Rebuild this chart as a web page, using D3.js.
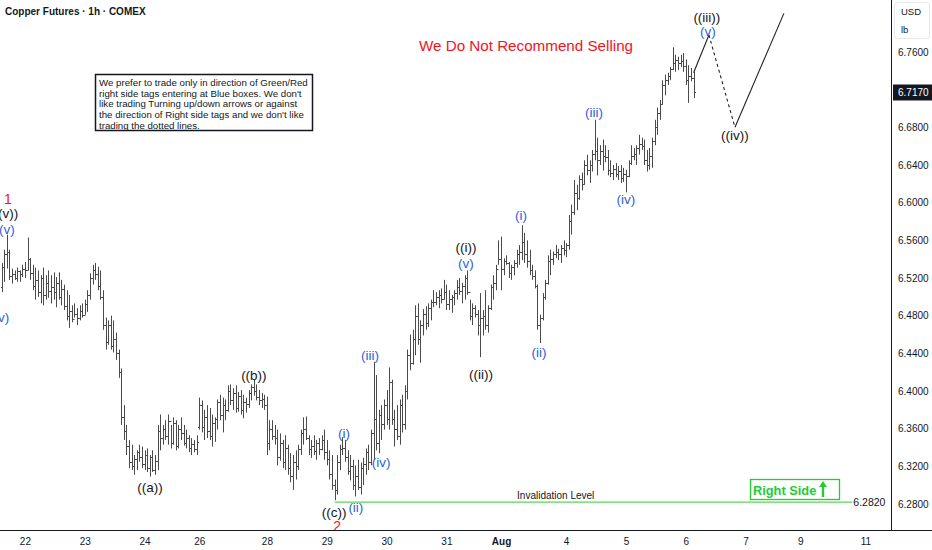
<!DOCTYPE html>
<html>
<head>
<meta charset="utf-8">
<script src="https://cdn.jsdelivr.net/npm/d3@7"></script>
<style>
  body { margin: 0; background: #fff; }
  svg { display: block; font-family: "Liberation Sans", Arial, sans-serif; }
</style>
</head>
<body>
<div id="chart"></div>
<script>
// hourly OHLC
const highs = [6.536,6.550,6.566,6.550,6.530,6.528,6.531,6.528,6.534,6.537,
  6.563,6.541,6.534,6.531,6.528,6.523,6.531,6.523,6.528,6.523,
  6.526,6.521,6.526,6.518,6.513,6.507,6.502,6.491,6.493,6.488,
  6.491,6.493,6.497,6.507,6.525,6.534,6.536,6.532,6.528,6.507,
  6.478,6.475,6.480,6.475,6.462,6.444,6.424,6.385,6.364,6.348,
  6.343,6.332,6.337,6.343,6.341,6.337,6.339,6.332,6.337,6.332,
  6.364,6.375,6.364,6.369,6.375,6.364,6.372,6.369,6.364,6.372,
  6.364,6.359,6.353,6.350,6.348,6.353,6.393,6.390,6.380,6.385,
  6.382,6.375,6.372,6.391,6.396,6.393,6.391,6.406,6.407,6.403,
  6.406,6.399,6.401,6.396,6.393,6.401,6.407,6.412,6.407,6.401,
  6.398,6.396,6.394,6.369,6.369,6.364,6.359,6.355,6.348,6.353,
  6.343,6.334,6.332,6.337,6.343,6.359,6.372,6.373,6.353,6.348,
  6.353,6.348,6.350,6.353,6.359,6.348,6.337,6.332,6.306,6.332,
  6.343,6.351,6.348,6.337,6.332,6.327,6.321,6.327,6.324,6.329,
  6.339,6.343,6.359,6.431,6.417,6.380,6.385,6.391,6.401,6.425,
  6.412,6.380,6.385,6.391,6.396,6.406,6.444,6.460,6.465,6.491,
  6.493,6.475,6.487,6.490,6.493,6.497,6.507,6.505,6.507,6.509,
  6.518,6.513,6.507,6.502,6.507,6.518,6.520,6.515,6.523,6.528,
  6.497,6.493,6.491,6.486,6.504,6.486,6.507,6.491,6.513,6.523,
  6.534,6.560,6.564,6.541,6.544,6.537,6.534,6.539,6.550,6.555,
  6.576,6.568,6.560,6.550,6.534,6.528,6.513,6.481,6.504,6.518,
  6.544,6.550,6.548,6.555,6.551,6.555,6.560,6.557,6.587,6.598,
  6.624,6.619,6.629,6.632,6.645,6.651,6.645,6.656,6.688,6.669,
  6.661,6.667,6.661,6.656,6.645,6.640,6.642,6.639,6.640,6.637,
  6.635,6.645,6.661,6.658,6.661,6.672,6.669,6.667,6.656,6.658,
  6.669,6.688,6.701,6.709,6.730,6.736,6.738,6.744,6.765,6.757,
  6.755,6.757,6.759,6.752,6.746,6.743,6.739];

const lows = [6.505,6.516,6.530,6.518,6.514,6.518,6.516,6.516,6.521,6.520,
  6.528,6.518,6.507,6.497,6.500,6.493,6.491,6.497,6.499,6.493,
  6.497,6.489,6.497,6.491,6.486,6.475,6.467,6.473,6.478,6.470,
  6.475,6.478,6.481,6.484,6.497,6.513,6.518,6.507,6.497,6.465,
  6.444,6.449,6.444,6.441,6.433,6.414,6.364,6.348,6.332,6.318,
  6.316,6.311,6.316,6.325,6.318,6.316,6.314,6.309,6.314,6.311,
  6.316,6.337,6.343,6.348,6.343,6.339,6.343,6.337,6.339,6.348,
  6.342,6.339,6.335,6.332,6.335,6.332,6.359,6.356,6.348,6.350,
  6.348,6.341,6.346,6.359,6.369,6.356,6.369,6.378,6.385,6.380,
  6.377,6.378,6.375,6.371,6.377,6.382,6.390,6.395,6.390,6.385,
  6.382,6.380,6.332,6.337,6.348,6.343,6.321,6.326,6.318,6.316,
  6.311,6.303,6.295,6.306,6.316,6.332,6.343,6.348,6.332,6.329,
  6.332,6.327,6.332,6.337,6.327,6.321,6.306,6.295,6.284,6.290,
  6.316,6.332,6.325,6.311,6.305,6.295,6.288,6.295,6.290,6.300,
  6.311,6.316,6.321,6.327,6.337,6.334,6.348,6.359,6.364,6.359,
  6.364,6.341,6.348,6.343,6.356,6.359,6.391,6.422,6.428,6.438,
  6.449,6.430,6.459,6.465,6.468,6.475,6.489,6.491,6.488,6.493,
  6.497,6.486,6.486,6.483,6.491,6.497,6.502,6.493,6.497,6.502,
  6.475,6.470,6.478,6.459,6.436,6.459,6.465,6.462,6.486,6.497,
  6.507,6.534,6.507,6.523,6.534,6.520,6.518,6.523,6.531,6.534,
  6.539,6.536,6.531,6.523,6.518,6.509,6.465,6.451,6.475,6.497,
  6.513,6.523,6.534,6.541,6.539,6.536,6.544,6.542,6.550,6.566,
  6.587,6.592,6.603,6.613,6.619,6.629,6.621,6.633,6.645,6.629,
  6.640,6.634,6.643,6.629,6.627,6.624,6.627,6.624,6.621,6.622,
  6.611,6.627,6.640,6.645,6.640,6.651,6.656,6.640,6.633,6.635,
  6.637,6.661,6.672,6.688,6.704,6.714,6.725,6.730,6.741,6.739,
  6.741,6.744,6.739,6.725,6.706,6.729,6.711];

const opens = [6.510,6.532,6.545,6.548,6.522,6.524,6.520,6.527,6.524,6.530,
  6.528,6.540,6.525,6.512,6.518,6.505,6.520,6.502,6.515,6.506,
  6.510,6.505,6.515,6.500,6.508,6.490,6.480,6.485,6.476,6.482,
  6.478,6.485,6.481,6.492,6.502,6.520,6.528,6.524,6.512,6.500,
  6.470,6.452,6.470,6.448,6.455,6.440,6.420,6.372,6.358,6.342,
  6.325,6.320,6.328,6.335,6.330,6.322,6.332,6.318,6.330,6.316,
  6.326,6.358,6.350,6.360,6.352,6.368,6.345,6.366,6.342,6.360,
  6.355,6.345,6.350,6.340,6.344,6.338,6.362,6.385,6.362,6.372,
  6.358,6.352,6.366,6.370,6.388,6.375,6.385,6.380,6.400,6.390,
  6.398,6.382,6.395,6.380,6.388,6.386,6.398,6.404,6.400,6.394,
  6.390,6.392,6.385,6.345,6.360,6.352,6.350,6.330,6.345,6.325,
  6.340,6.318,6.310,6.325,6.320,6.338,6.355,6.360,6.350,6.338,
  6.342,6.336,6.345,6.338,6.348,6.335,6.328,6.312,6.300,6.295,
  6.325,6.338,6.340,6.330,6.315,6.320,6.300,6.310,6.298,6.318,
  6.322,6.335,6.325,6.355,6.370,6.345,6.375,6.365,6.385,6.370,
  6.410,6.370,6.360,6.352,6.385,6.365,6.400,6.438,6.430,6.455,
  6.480,6.455,6.470,6.482,6.472,6.488,6.494,6.495,6.500,6.502,
  6.498,6.505,6.492,6.498,6.500,6.504,6.510,6.506,6.512,6.520,
  6.505,6.480,6.488,6.482,6.470,6.478,6.480,6.470,6.488,6.510,
  6.515,6.530,6.540,6.530,6.538,6.536,6.525,6.532,6.536,6.545,
  6.548,6.558,6.545,6.538,6.528,6.522,6.512,6.470,6.478,6.500,
  6.515,6.538,6.540,6.545,6.548,6.545,6.552,6.550,6.555,6.580,
  6.590,6.610,6.605,6.625,6.620,6.640,6.635,6.640,6.652,6.655,
  6.645,6.655,6.650,6.648,6.635,6.632,6.636,6.630,6.634,6.626,
  6.630,6.628,6.642,6.650,6.652,6.658,6.662,6.660,6.645,6.640,
  6.650,6.665,6.680,6.695,6.705,6.725,6.730,6.735,6.742,6.748,
  6.752,6.748,6.750,6.745,6.730,6.735,6.732];

const closes = [6.532,6.545,6.548,6.522,6.524,6.520,6.527,6.524,6.530,6.528,
  6.540,6.525,6.512,6.518,6.505,6.520,6.502,6.515,6.506,6.510,
  6.505,6.515,6.500,6.508,6.490,6.480,6.485,6.476,6.482,6.478,
  6.485,6.481,6.492,6.502,6.520,6.528,6.524,6.512,6.500,6.470,
  6.452,6.470,6.448,6.455,6.440,6.420,6.372,6.358,6.342,6.325,
  6.320,6.328,6.335,6.330,6.322,6.332,6.318,6.330,6.316,6.326,
  6.358,6.350,6.360,6.352,6.368,6.345,6.366,6.342,6.360,6.355,
  6.345,6.350,6.340,6.344,6.338,6.346,6.385,6.362,6.372,6.358,
  6.352,6.366,6.370,6.388,6.375,6.385,6.380,6.400,6.390,6.398,
  6.382,6.395,6.380,6.388,6.386,6.398,6.404,6.400,6.394,6.390,
  6.392,6.385,6.345,6.360,6.352,6.350,6.330,6.345,6.325,6.340,
  6.318,6.310,6.325,6.320,6.338,6.355,6.360,6.350,6.338,6.342,
  6.336,6.345,6.338,6.348,6.335,6.328,6.312,6.300,6.295,6.325,
  6.338,6.340,6.330,6.315,6.320,6.300,6.310,6.298,6.318,6.322,
  6.335,6.325,6.355,6.370,6.345,6.375,6.365,6.385,6.370,6.410,
  6.370,6.360,6.352,6.385,6.365,6.400,6.438,6.430,6.455,6.480,
  6.455,6.470,6.482,6.472,6.488,6.494,6.495,6.500,6.502,6.498,
  6.505,6.492,6.498,6.500,6.504,6.510,6.506,6.512,6.520,6.505,
  6.480,6.488,6.482,6.470,6.478,6.480,6.470,6.488,6.510,6.515,
  6.530,6.540,6.530,6.538,6.536,6.525,6.532,6.536,6.545,6.548,
  6.558,6.545,6.538,6.528,6.522,6.512,6.470,6.478,6.500,6.515,
  6.538,6.540,6.545,6.548,6.545,6.552,6.550,6.555,6.580,6.590,
  6.610,6.605,6.625,6.620,6.640,6.635,6.640,6.652,6.655,6.645,
  6.655,6.650,6.648,6.635,6.632,6.636,6.630,6.634,6.626,6.630,
  6.628,6.642,6.650,6.652,6.658,6.662,6.660,6.645,6.640,6.650,
  6.665,6.680,6.695,6.705,6.725,6.730,6.735,6.742,6.748,6.752,
  6.748,6.750,6.745,6.730,6.735,6.732,6.717];

// time axis: bar index where each day label sits
const dayIdx = [9, 32, 55, 76, 102, 125, 148, 171, 192, 217, 240, 263, 286, 307, 332];
const dayLabels = ["22","23","24","26","28","29","30","31","Aug","4","5","6","7","9","11"];

const priceTicks = [6.76, 6.68, 6.64, 6.60, 6.56, 6.52, 6.48, 6.44, 6.40, 6.36, 6.32, 6.28];
const lastPrice = 6.717;
const invalidation = 6.282;
const invalidFrom = 128, invalidTo = 327;

// projected path [bar index, price]
const projUp = [[266, 6.738], [271.9, 6.778]];
const projDash = [[271.9, 6.778], [281.9, 6.680]];
const projNext = [[281.9, 6.680], [300.7, 6.801]];

// wave counts [text, bar index, price, kind]
const waveLabels = [
  ["1", 2.5, 6.604, "red"], ["((v))", 1.7, 6.588, "black"], ["(v)", 2.1, 6.571, "blue"],
  ["(v)", 0, 6.478, "blue"],
  ["((a))", 57.1, 6.298, "black"], ["((b))", 97.0, 6.416, "black"],
  ["((c))", 127.8, 6.271, "black"], ["2", 129.0, 6.257, "red"],
  ["(i)", 131.6, 6.355, "blue"], ["(ii)", 136.2, 6.276, "blue"],
  ["(iii)", 141.6, 6.438, "blue"], ["(iv)", 145.9, 6.324, "blue"],
  ["((i))", 178.5, 6.552, "black"], ["(v)", 178.5, 6.535, "blue"],
  ["((ii))", 184.3, 6.418, "black"],
  ["(i)", 199.7, 6.586, "blue"], ["(ii)", 206.6, 6.441, "blue"],
  ["(iii)", 227.7, 6.696, "blue"], ["(iv)", 240.0, 6.603, "blue"],
  ["((iii))", 271.1, 6.797, "black"], ["(v)", 271.5, 6.782, "blue"],
  ["((iv))", 281.9, 6.671, "black"]
];

const noteLines = [
  "We prefer to trade only in direction of Green/Red",
  "right side tags entering at Blue boxes. We don't",
  "like trading Turning up/down arrows or against",
  "the direction of Right side tags and we don't like",
  "trading the dotted lines."
];

const W = 932, H = 550;
const paneRight = 891, paneBottom = 530;
const waveColor = {red: "#f0141e", black: "#131722", blue: "#2f5fe0"};
const green = "#22cc33";

const svg = d3.select("#chart").append("svg")
    .attr("width", W).attr("height", H);

const x = d3.scaleLinear().domain([0, 266]).range([1.5, 693.6]);
const y = d3.scaleLinear().domain([6.28, 6.76]).range([504, 52]);

// invalidation level
svg.append("line")
    .attr("x1", x(invalidFrom)).attr("x2", x(invalidTo))
    .attr("y1", y(invalidation)).attr("y2", y(invalidation))
    .attr("stroke", "#5bd65b").attr("stroke-width", 1.3);
svg.append("text")
    .attr("x", x(invalidTo) + 1).attr("y", y(invalidation) + 4)
    .attr("font-size", 10.5).attr("fill", "#131722")
    .text(invalidation.toFixed(4));
svg.append("text")
    .attr("x", x(213)).attr("y", y(invalidation) - 3)
    .attr("text-anchor", "middle")
    .attr("font-size", 10).attr("fill", "#131722")
    .text("Invalidation Level");

// OHLC bars
const bars = highs.map((h, i) => ({i: i, h: h, l: lows[i], o: opens[i], c: closes[i]}));
svg.append("g")
    .attr("fill", "none").attr("stroke", "#4a4a4a").attr("stroke-width", 1)
  .selectAll("path")
  .data(bars)
  .join("path")
    .attr("d", d => {
      let cx = Math.round(x(d.i)) + 0.5;
      let yo = Math.round(y(d.o)) + 0.5, yc = Math.round(y(d.c)) + 0.5;
      return "M" + cx + "," + y(d.h) + "V" + y(d.l) +
             "M" + (cx - 1.5) + "," + yo + "H" + cx +
             "M" + cx + "," + yc + "H" + (cx + 1.5);
    });

// projection
let line = d3.line().x(d => x(d[0])).y(d => y(d[1]));
svg.append("path").attr("d", line(projUp)).attr("fill", "none")
    .attr("stroke", "#222").attr("stroke-width", 1.1);
svg.append("path").attr("d", line(projDash)).attr("fill", "none")
    .attr("stroke", "#222").attr("stroke-width", 1.1).attr("stroke-dasharray", "3,3");
svg.append("path").attr("d", line(projNext)).attr("fill", "none")
    .attr("stroke", "#222").attr("stroke-width", 1.1);

// wave labels
svg.append("g").selectAll("text")
  .data(waveLabels)
  .join("text")
    .attr("x", d => x(d[1])).attr("y", d => y(d[2]))
    .attr("text-anchor", "middle").attr("dominant-baseline", "central")
    .attr("font-size", d => d[3] == "red" ? 14 : 13.5)
    .attr("fill", d => waveColor[d[3]])
    .text(d => d[0]);

// heading texts
svg.append("text")
    .attr("x", 5).attr("y", 15)
    .attr("font-size", 10).attr("font-weight", 700).attr("fill", "#131722")
    .text("Copper Futures · 1h · COMEX");
svg.append("text")
    .attr("x", 526).attr("y", 51)
    .attr("text-anchor", "middle")
    .attr("font-size", 15.2).attr("fill", "#f0141e")
    .text("We Do Not Recommend Selling");

// note box
svg.append("rect")
    .attr("x", 95.5).attr("y", 74.5).attr("width", 217).attr("height", 56)
    .attr("fill", "#fff").attr("stroke", "#131722").attr("stroke-width", 1.5);
svg.append("g").selectAll("text")
  .data(noteLines)
  .join("text")
    .attr("x", 99).attr("y", (d, i) => 86 + i * 10.7)
    .attr("font-size", 9.7).attr("fill", "#131722")
    .text(d => d);

// right side tag
let tag = svg.append("g").attr("transform", "translate(750,479)");
tag.append("rect").attr("x", 0.5).attr("y", 0.5).attr("width", 89).attr("height", 20)
    .attr("fill", "#fff").attr("stroke", green).attr("stroke-width", 1.3);
tag.append("text").attr("x", 3).attr("y", 15.5)
    .attr("font-size", 12.8).attr("font-weight", 700).attr("fill", green)
    .text("Right Side");
tag.append("path").attr("d", "M73,18V7").attr("stroke", green).attr("stroke-width", 2.4);
tag.append("path").attr("d", "M69,8L73,2L77,8Z").attr("fill", green);

// price scale
svg.append("line").attr("x1", paneRight + 0.5).attr("x2", paneRight + 0.5)
    .attr("y1", 0).attr("y2", paneBottom).attr("stroke", "#131722");
svg.append("line").attr("x1", 0).attr("x2", W)
    .attr("y1", paneBottom + 0.5).attr("y2", paneBottom + 0.5).attr("stroke", "#131722");

let yAxis = svg.append("g")
    .attr("transform", "translate(" + paneRight + ",0)")
    .call(d3.axisRight(y).tickValues(priceTicks).tickSize(0).tickPadding(7)
      .tickFormat(d3.format(".4f")));
yAxis.select(".domain").remove();
yAxis.selectAll("text")
    .attr("font-family", "Liberation Sans, Arial, sans-serif")
    .attr("font-size", 10).attr("fill", "#131722");

svg.append("rect").attr("x", 894.5).attr("y", 2.5).attr("width", 35).attr("height", 36).attr("rx", 3)
    .attr("fill", "#fff").attr("stroke", "#e6e8ee");
svg.append("text").attr("x", 901).attr("y", 15).attr("font-size", 9.5).attr("fill", "#131722").text("USD");
svg.append("text").attr("x", 901).attr("y", 33).attr("font-size", 9.5).attr("fill", "#131722").text("lb");

svg.append("rect").attr("x", 893).attr("y", y(lastPrice) - 8).attr("width", 39).attr("height", 16)
    .attr("fill", "#131722");
svg.append("text").attr("x", 898).attr("y", y(lastPrice) + 4)
    .attr("font-size", 10).attr("fill", "#fff")
    .text(lastPrice.toFixed(4));

// time scale
let xAxis = svg.append("g")
    .attr("transform", "translate(0," + paneBottom + ")")
    .call(d3.axisBottom(x).tickValues(dayIdx).tickSize(0).tickPadding(8)
      .tickFormat((d, i) => dayLabels[i]));
xAxis.select(".domain").remove();
xAxis.selectAll("text")
    .attr("font-family", "Liberation Sans, Arial, sans-serif")
    .attr("font-size", 10).attr("fill", "#131722")
    .attr("font-weight", (d, i) => dayLabels[i] == "Aug" ? 700 : 400);
</script>
</body>
</html>
